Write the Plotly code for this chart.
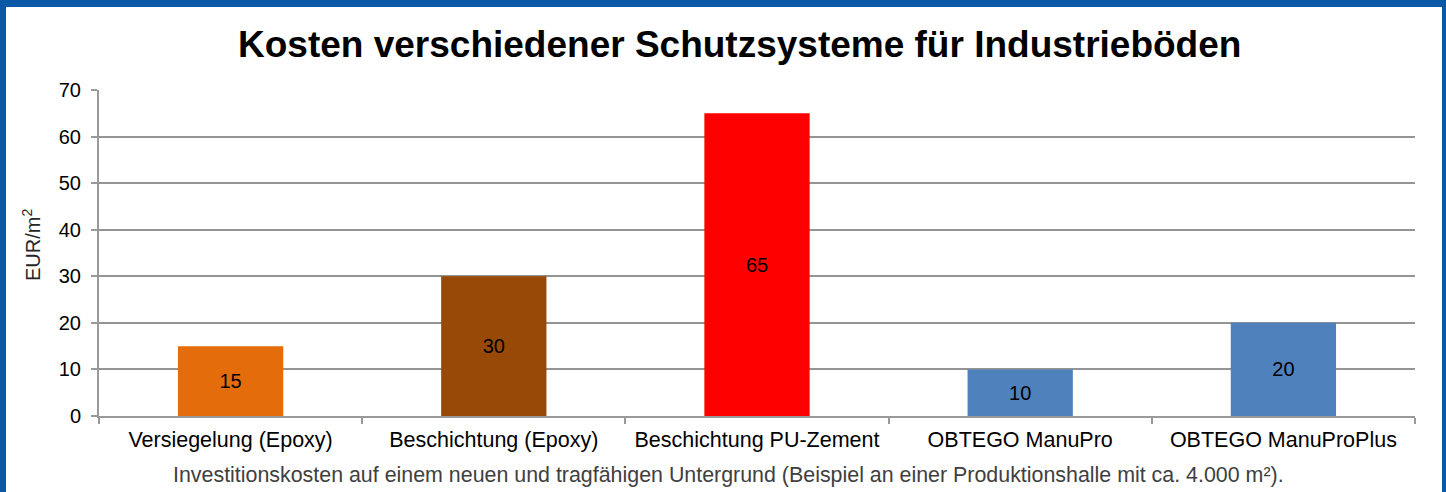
import plotly.graph_objects as go

categories = ["Versiegelung (Epoxy)", "Beschichtung (Epoxy)", "Beschichtung PU-Zement",
              "OBTEGO ManuPro", "OBTEGO ManuProPlus"]
values = [15, 30, 65, 10, 20]
colors = ["#E46C0A", "#984807", "#FF0000", "#4F81BD", "#4F81BD"]
y_ticks = [0, 10, 20, 30, 40, 50, 60, 70]

W, H = 1446, 492
L, R, T, B = 99, 31, 90, 76
pw, ph = W - L - R, H - T - B

def px_x(p):
    return (p - L) / pw

def px_y(p):
    return (H - B - p) / ph

FONT = "Liberation Sans, Arial, sans-serif"

fig = go.Figure()
fig.add_trace(go.Bar(
    x=categories, y=values, marker=dict(color=colors, line=dict(width=0)),
    text=[str(v) for v in values], textposition="inside", insidetextanchor="middle",
    textfont=dict(family=FONT, size=20, color="#000000"), width=0.4,
    hoverinfo="x+y",
))

fig.update_layout(
    width=W, height=H,
    margin=dict(l=L, r=R, t=T, b=B),
    paper_bgcolor="#0A58A6",
    plot_bgcolor="rgba(0,0,0,0)",
    showlegend=False,
    font=dict(family=FONT, size=20, color="#000000"),
    shapes=[dict(type="rect", xref="paper", yref="paper",
                 x0=px_x(6), x1=px_x(1442), y0=px_y(500), y1=px_y(7),
                 fillcolor="#FFFFFF", line=dict(width=0), layer="below")],
    annotations=[
        dict(text="<b>Kosten verschiedener Schutzsysteme für Industrieböden</b>",
             xref="paper", yref="paper", x=px_x(739), y=px_y(45),
             xanchor="center", yanchor="middle", showarrow=False,
             font=dict(family=FONT, size=37, color="#000000")),
        dict(text="EUR/m<sup>2</sup>", xref="paper", yref="paper", x=px_x(31), y=px_y(245),
             xanchor="center", yanchor="middle", showarrow=False, textangle=-90,
             font=dict(family=FONT, size=20, color="#262626")),
        dict(text="Investitionskosten auf einem neuen und tragfähigen Untergrund (Beispiel an einer Produktionshalle mit ca. 4.000 m²).",
             xref="paper", yref="paper", x=px_x(728), y=px_y(475),
             xanchor="center", yanchor="middle", showarrow=False,
             font=dict(family=FONT, size=21.4, color="#404040")),
    ],
)

fig.update_xaxes(
    type="category", tickson="boundaries", ticks="outside", ticklen=6, tickwidth=2,
    tickcolor="#999999", showline=True, linecolor="#999999", linewidth=2,
    showgrid=False, tickfont=dict(family=FONT, size=21.5, color="#000000"),
    range=[-0.5, 4.5], fixedrange=True, ticklabelstandoff=3,
)
fig.update_yaxes(
    range=[0, 70], tickvals=y_ticks, ticks="outside", ticklen=6, tickwidth=2,
    tickcolor="#999999", showline=True, linecolor="#999999", linewidth=2,
    showgrid=True, gridcolor="#949494", gridwidth=2, zeroline=False,
    tickfont=dict(family=FONT, size=20, color="#000000"), ticklabelstandoff=6,
)

fig.write_html("out.html", config={"displayModeBar": False},
               post_script="document.body.style.margin='0';")
